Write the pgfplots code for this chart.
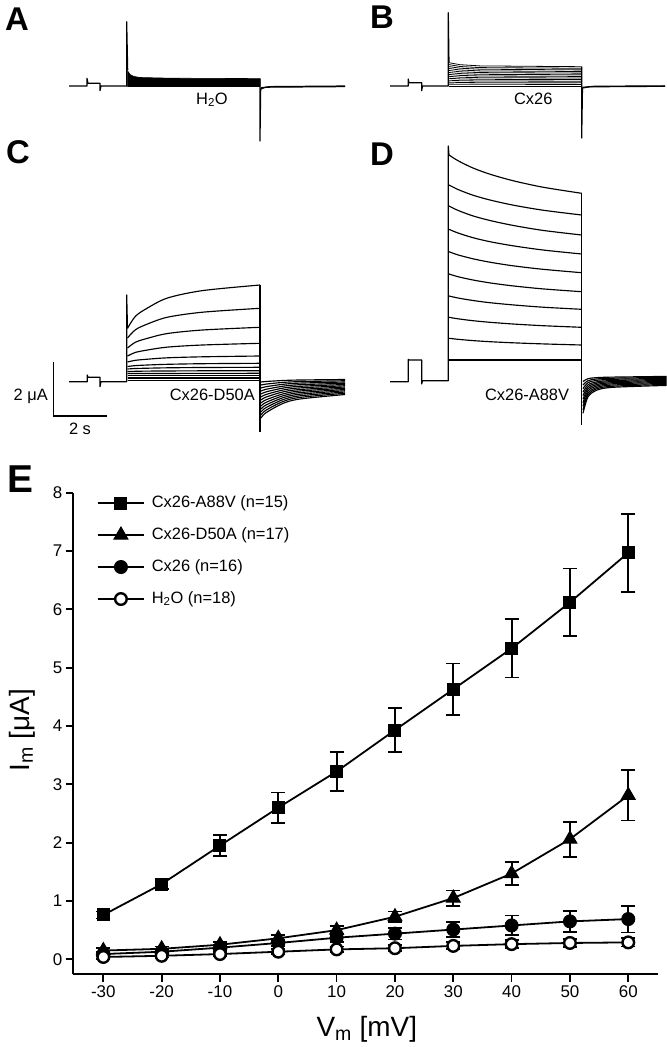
\documentclass[border=0pt]{standalone}
\usepackage{fontspec}
\setmainfont{Liberation Sans}
\usepackage{pgfplots}
\pgfplotsset{compat=1.18}
\tikzset{
  tr/.style={black, line width=1.15bp, line join=round, mark=none},
  trs/.style={tr, smooth, tension=0.5},
  thin tr/.style={black, line width=0.8bp, line join=round, mark=none},
}
\newcommand{\lbl}{\fontsize{16.5}{18}\selectfont}
\newcommand{\pan}{\fontsize{33}{36}\selectfont\bfseries}
\begin{document}
\begin{tikzpicture}
\path[use as bounding box] (0,0) rectangle (667bp,1047bp);
% ---------------- panels A-D (pixel units) ----------------
\begin{axis}[at={(0,0)}, anchor=south west, scale only axis,
  width=667bp, height=1047bp, xmin=0, xmax=667, ymin=0, ymax=1047,
  y dir=reverse, hide axis, clip=false]
% ---- A ----
\addplot[tr] coordinates {(69,86) (87,86) (87,78.3) (88,83.3) (100,83.3) (100,90.7) (101,86) (126.7,86) (126.7,21.7) (127.7,70)};
\addplot[fill=black, draw=black, line width=0.6bp] coordinates {(127.7,71) (130,74.5) (134,76.5) (140,77.5) (170,78.2) (260,78.6) (260,86.5) (127.7,86.5)} -- cycle;
\addplot[tr] coordinates {(260,78.6) (260,141) (260.7,89) (266,87.2) (345,86.6)};
\addplot[tr] coordinates {(261,87.8) (270,86.6) (345,86)};
% ---- B ----
\addplot[tr] coordinates {(390,86) (408.3,86) (408.3,79) (409,82.7) (421.7,82.7) (421.7,90.7) (422.5,86) (448.3,86) (448.3,12.7) (449,62.7)};
\addplot[thin tr] coordinates {(449,62.7) (460,64.7) (480,65.9) (581.7,66.7)};
\addplot[thin tr] coordinates {(449,64.6) (460,66.5) (480,67.6) (581.7,68.3)};
\addplot[thin tr] coordinates {(449,66.6) (460,68.2) (480,69.2) (581.7,69.9)};
\addplot[thin tr] coordinates {(449,68.5) (460,70.0) (480,70.9) (581.7,71.5)};
\addplot[thin tr] coordinates {(449,70.5) (460,71.8) (480,72.6) (581.7,73.15)};
\addplot[thin tr] coordinates {(449,72.5) (460,73.6) (480,74.3) (581.7,74.8)};
\addplot[thin tr] coordinates {(449,74.4) (460,75.4) (480,76.0) (581.7,76.4)};
\addplot[thin tr] coordinates {(449,76.3) (460,77.2) (480,77.7) (581.7,78.0)};
\addplot[thin tr] coordinates {(449,78.3) (460,78.9) (480,79.3) (581.7,79.6)};
\addplot[thin tr] coordinates {(449,80.2) (460,80.7) (480,81.0) (581.7,81.2)};
\addplot[thin tr] coordinates {(449,82.1) (460,82.5) (480,82.7) (581.7,82.8)};
\addplot[thin tr] coordinates {(449,84.1) (460,84.2) (480,84.3) (581.7,84.4)};
\addplot[thin tr] coordinates {(449,86) (581.7,86)};
\addplot[tr] coordinates {(581.7,66.7) (581.7,138) (582.5,88) (590,86.8) (665,86.3)};
\addplot[tr] coordinates {(582.5,87.3) (595,86.2) (665,85.9)};
% ---- C ----
\addplot[tr] coordinates {(69,381.7) (87.3,381.7) (87.3,375) (88,377.3) (100,377.3) (100,386.7) (101,381.7) (126.7,381.7) (126.7,295) (127.5,328.3)};
\addplot[trs] coordinates {(127.5,328.3) (135.5,316.2) (147.5,308.0) (167.5,298.0) (202.5,290.6) (260,285)};
\addplot[trs] coordinates {(127.5,338) (135.5,329.7) (147.5,324.0) (167.5,317.2) (202.5,312.2) (260,308.3)};
\addplot[trs] coordinates {(127.5,348) (135.5,342.2) (147.5,338.3) (167.5,333.5) (202.5,330.0) (260,327.3)};
\addplot[trs] coordinates {(127.5,356) (135.5,352.4) (147.5,350.0) (167.5,347.1) (202.5,345.0) (260,343.3)};
\addplot[trs] coordinates {(127.5,362) (135.5,360.3) (147.5,359.2) (167.5,357.8) (202.5,356.8) (260,356)};
\addplot[trs] coordinates {(127.5,366.5) (135.5,365.6) (147.5,365.0) (167.5,364.3) (202.5,363.7) (260,363.3)};
\addplot[trs] coordinates {(127.5,369) (135.5,368.5) (147.5,368.2) (167.5,367.8) (202.5,367.5) (260,367.3)};
\addplot[trs] coordinates {(127.5,371.5) (147.5,371.1) (202.5,370.8) (260,370.7)};
\addplot[tr] coordinates {(127.5,373.5) (260,373.3)};
\addplot[tr] coordinates {(127.5,375.7) (260,375.7)};
\addplot[tr] coordinates {(127.5,377.3) (260,377.3)};
\addplot[tr] coordinates {(127.5,378.7) (260,378.7)};
\addplot[tr] coordinates {(127.5,380.2) (260,380.2)};
\addplot[tr] coordinates {(260,285) (260,432)};
\addplot[trs] coordinates {(261,382) (266,381.5) (283,380.5) (300,380.0) (345,379.5)};
\addplot[trs] coordinates {(261,385) (266,384.1) (283,382.4) (300,381.6) (345,380.75)};
\addplot[trs] coordinates {(261,388) (266,386.7) (283,384.3) (300,383.1) (345,382)};
\addplot[trs] coordinates {(261,391) (266,389.3) (283,386.2) (300,384.7) (345,383.25)};
\addplot[trs] coordinates {(261,394) (266,391.9) (283,388.1) (300,386.3) (345,384.5)};
\addplot[trs] coordinates {(261,397) (266,394.5) (283,390.0) (300,387.9) (345,385.75)};
\addplot[trs] coordinates {(261,400) (266,397.1) (283,391.9) (300,389.5) (345,387)};
\addplot[trs] coordinates {(261,403) (266,399.8) (283,393.9) (300,391.0) (345,388.25)};
\addplot[trs] coordinates {(261,406) (266,402.4) (283,395.8) (300,392.6) (345,389.5)};
\addplot[trs] coordinates {(261,409) (266,405.0) (283,397.7) (300,394.2) (345,390.75)};
\addplot[trs] coordinates {(261,412) (266,407.6) (283,399.6) (300,395.8) (345,392)};
\addplot[trs] coordinates {(261,415) (266,410.2) (283,401.5) (300,397.4) (345,393.25)};
\addplot[trs] coordinates {(261,418) (266,412.7) (283,403.4) (300,399.0) (345,394.5)};
% scale bar
\addplot[black, line width=1.6bp, mark=none] coordinates {(53.3,361.7) (53.3,416) (107.3,416)};
% ---- D ----
\addplot[tr] coordinates {(390,381.7) (408.3,381.7) (408.3,359.3) (409,360) (421.7,360) (421.7,384) (422.5,380.7) (448.3,380.7) (448.3,146) (449,155)};
\addplot[trs] coordinates {(449,155) (458,160.7) (473,168.0) (490,174.2) (513,180.7) (543,187.2) (581.7,193.3)};
\addplot[trs] coordinates {(449,185) (458,189.5) (473,195.2) (490,200) (513,205.1) (543,210.2) (581.7,215)};
\addplot[trs] coordinates {(449,206) (458,210.4) (473,215.9) (490,220.5) (513,225.4) (543,230.4) (581.7,235)};
\addplot[trs] coordinates {(449,229.3) (458,233.0) (473,237.7) (490,241.7) (513,245.8) (543,250.0) (581.7,254)};
\addplot[trs] coordinates {(449,251.7) (458,254.9) (473,258.8) (490,262.2) (513,265.8) (543,269.3) (581.7,272.7)};
\addplot[trs] coordinates {(449,274) (458,276.7) (473,280.0) (490,282.9) (513,285.9) (543,288.9) (581.7,291.7)};
\addplot[trs] coordinates {(449,296) (458,298.0) (473,300.5) (490,302.7) (513,304.9) (543,307.2) (581.7,309.3)};
\addplot[trs] coordinates {(449,317.3) (458,318.8) (473,320.7) (490,322.3) (513,324.0) (543,325.7) (581.7,327.3)};
\addplot[trs] coordinates {(449,338.3) (458,339.3) (473,340.6) (490,341.7) (513,342.8) (543,343.9) (581.7,345)};
\addplot[tr] coordinates {(449,360) (581.7,360)};
\addplot[tr] coordinates {(581.7,193.3) (581.7,425)};
\addplot[trs] coordinates {(583,381.5) (588,378.7) (597,377.6) (613,377.1) (666.7,376.4)};
\addplot[trs] coordinates {(583,385) (588,380.7) (597,378.9) (613,378.2) (666.7,377.4)};
\addplot[trs] coordinates {(583,388.6) (588,382.7) (597,380.3) (613,379.3) (666.7,378.4)};
\addplot[trs] coordinates {(583,392.1) (588,384.8) (597,381.8) (613,380.5) (666.7,379.4)};
\addplot[trs] coordinates {(583,395.6) (588,386.8) (597,383.1) (613,381.6) (666.7,380.4)};
\addplot[trs] coordinates {(583,399.2) (588,388.8) (597,384.5) (613,382.7) (666.7,381.4)};
\addplot[trs] coordinates {(583,402.7) (588,390.8) (597,385.9) (613,383.8) (666.7,382.4)};
\addplot[trs] coordinates {(583,406.2) (588,392.9) (597,387.3) (613,385.0) (666.7,383.4)};
\addplot[trs] coordinates {(583,409.8) (588,394.9) (597,388.7) (613,386.2) (666.7,384.4)};
\addplot[trs] coordinates {(583,413.3) (588,396.9) (597,390.1) (613,387.3) (666.7,385.4)};
% ---- texts ----
\node[anchor=base west, font=\pan, inner sep=0pt] at (axis cs:5,30) {A};
\node[anchor=base west, font=\pan, inner sep=0pt] at (axis cs:370,28) {B};
\node[anchor=base west, font=\pan, inner sep=0pt] at (axis cs:6,163) {C};
\node[anchor=base west, font=\pan, inner sep=0pt] at (axis cs:370,165) {D};
\node[anchor=base west, font=\fontsize{39}{42}\selectfont\bfseries, inner sep=0pt] at (axis cs:7,492) {E};
\node[anchor=base, font=\lbl, inner sep=0pt] at (axis cs:212,104) {H\textsubscript{2}O};
\node[anchor=base, font=\lbl, inner sep=0pt] at (axis cs:533.3,104) {Cx26};
\node[anchor=base east, font=\lbl, inner sep=0pt] at (axis cs:255,400.7) {Cx26-D50A};
\node[anchor=base east, font=\lbl, inner sep=0pt] at (axis cs:569.3,400.7) {Cx26-A88V};
\node[anchor=base east, font=\lbl, inner sep=0pt] at (axis cs:48,400.7) {2 μA};
\node[anchor=base, font=\lbl, inner sep=0pt] at (axis cs:80,434) {2 s};
\end{axis}
% ---------------- panel E ----------------
\begin{axis}[at={(73.3bp,72.7bp)}, anchor=south west, scale only axis,
  width=584.7bp, height=481.6bp,
  xmin=-35.15, xmax=65.1, ymin=-0.257, ymax=8,
  axis lines=left, axis line style={-, line width=1.7bp, black},
  xtick={-30,-20,...,60}, ytick={0,1,...,8},
  tick align=outside, major tick length=7.5bp,
  tick style={line width=1.7bp, black},
  tick label style={font=\fontsize{17}{20}\selectfont},
  /pgf/number format/assume math mode=true,
  xlabel={V\textsubscript{m} [mV]}, ylabel={I\textsubscript{m} [μA]},
  label style={font=\fontsize{28}{32}\selectfont},
  xlabel style={at={(axis description cs:0.502,-0.1296)}, anchor=base},
  ylabel style={at={(axis description cs:-0.088,0.507)}, anchor=center},
  clip=false,
  legend cell align=left,
  legend style={draw=none, fill=none, inner sep=0pt, outer sep=0pt,
    at={(axis cs:-31.13,7.0)}, anchor=west, row sep=16bp, column sep=6.7bp,
    font=\fontsize{16.5}{18}\selectfont,
    nodes={inner sep=0pt, text height=12bp, text depth=4bp}},
  legend image code/.code={\draw[mark repeat=2,mark phase=2,#1] plot coordinates {(0bp,0bp) (23.3bp,0bp) (46.6bp,0bp)};},
  every axis plot/.append style={black, line width=1.8bp},
  error bars/y dir=both, error bars/y explicit,
  error bars/error bar style={line width=1.8bp, black},
  error bars/error mark options={rotate=90, line width=1.8bp, mark size=7bp, black},
]
\addplot[mark=square*, mark size=6bp, mark options={line width=1bp, fill=black}] table[x=v, y=i, y error=e] {
v i e
-30 0.76 0.06
-20 1.29 0.09
-10 1.95 0.18
0 2.60 0.26
10 3.22 0.33
20 3.93 0.38
30 4.63 0.44
40 5.33 0.50
50 6.12 0.58
60 6.97 0.67
};
\addlegendentry{Cx26-A88V (n=15)}
\addplot[mark=triangle*, mark size=8bp, mark options={line width=1bp, fill=black}] table[x=v, y=i, y error=e] {
v i e
-30 0.15 0.04
-20 0.18 0.04
-10 0.25 0.05
0 0.36 0.06
10 0.50 0.07
20 0.73 0.09
30 1.05 0.13
40 1.47 0.20
50 2.06 0.30
60 2.81 0.43
};
\addlegendentry{Cx26-D50A (n=17)}
\addplot[mark=*, mark size=6.5bp, mark options={line width=1bp, fill=black}] table[x=v, y=i, y error=e] {
v i e
-30 0.09 0.03
-20 0.13 0.03
-10 0.20 0.04
0 0.28 0.05
10 0.37 0.07
20 0.44 0.10
30 0.51 0.13
40 0.58 0.17
50 0.65 0.18
60 0.69 0.23
};
\addlegendentry{Cx26 (n=16)}
\addplot[mark=*, mark size=5.8bp, mark options={line width=2.4bp, fill=white, draw=black}] table[x=v, y=i, y error=e] {
v i e
-30 0.04 0.03
-20 0.06 0.03
-10 0.09 0.04
0 0.13 0.04
10 0.17 0.05
20 0.19 0.05
30 0.23 0.06
40 0.26 0.07
50 0.28 0.07
60 0.29 0.07
};
\addlegendentry{H\textsubscript{2}O (n=18)}
\end{axis}
\end{tikzpicture}
\end{document}
